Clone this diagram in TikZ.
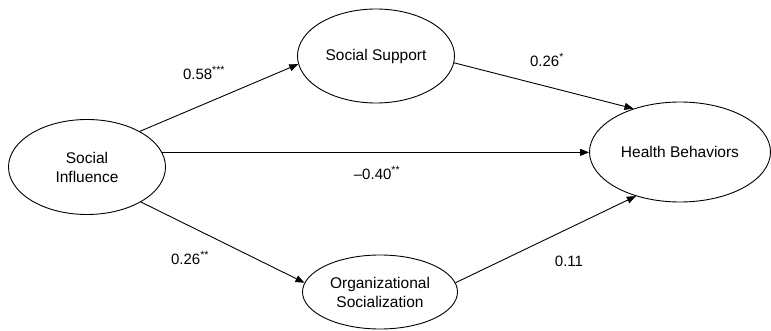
\documentclass[tikz,border=0pt]{standalone}
\usepackage{fontspec}
\setmainfont{Liberation Sans}
\usetikzlibrary{arrows.meta,shapes.geometric}
\begin{document}
\begin{tikzpicture}[x=1pt,y=-1pt,
  var/.style={draw,ellipse,line width=0.9pt,inner sep=0pt,align=center,font=\fontsize{15.5}{19}\selectfont},
  path/.style={line width=0.9pt,-{Triangle[length=9pt,width=7pt]}},
  coef/.style={font=\fontsize{15}{17}\selectfont}]
\useasboundingbox (0,0) rectangle (771,331);
\node[var,minimum width=157pt,minimum height=95pt] (si) at (87,167) {Social\\Influence};
\node[var,minimum width=157pt,minimum height=94pt] (ss) at (376,56) {Social Support};
\node[var,minimum width=155pt,minimum height=74pt] (os) at (380,292) {Organizational\\Socialization};
\node[var,minimum width=181pt,minimum height=100pt] (hb) at (680,152) {Health Behaviors};
\draw[path] (si.34) -- (ss.186);
\draw[path] (ss.-5) -- (hb.137);
\draw[path] (si.11) -- (si.11 -| hb.west);
\draw[path] (si.-33) -- (os.173);
\draw[path] (os.7) -- (hb.-135);
\node[coef] (c1) at (204,73) {0.58\textsuperscript{***}};
\node[coef] (c2) at (547,60) {0.26\textsuperscript{*}};
\node[coef] (c3) at (377,173) {–0.40\textsuperscript{**}};
\node[coef] (c4) at (190,258) {0.26\textsuperscript{**}};
\node[coef] (c5) at (569,261) {0.11};
\end{tikzpicture}
\end{document}
